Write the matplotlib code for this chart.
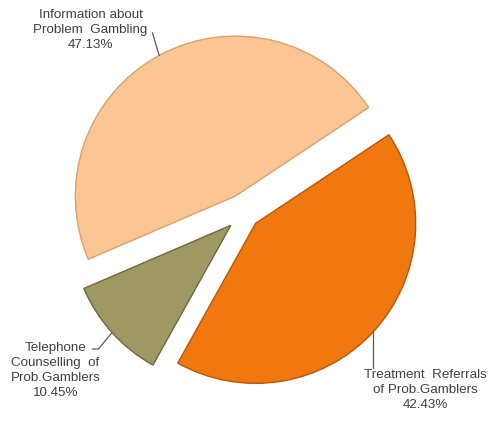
import numpy as np
import matplotlib
matplotlib.use("Agg")
import matplotlib.pyplot as plt

# helpline call breakdown
labels = ["Information about\nProblem  Gambling",
          "Telephone\nCounselling  of\nProb.Gamblers",
          "Treatment  Referrals\nof Prob.Gamblers"]
shares = [47.13, 10.45, 42.43]
colors = ["#FBC694", "#A09862", "#F0780F"]
edges = ["#D9A070", "#6E6840", "#B8570A"]

plt.rcParams['font.family'] = ['Liberation Sans', 'DejaVu Sans']

fig = plt.figure(figsize=(4.89, 4.26), dpi=100)
ax = fig.add_axes([0, 0, 1, 1])

wedges, _ = ax.pie(shares, colors=colors, startangle=33.6, counterclock=True,
                   explode=[0.12, 0.115, 0.095], radius=1.0,
                   wedgeprops=dict(linewidth=1.0))
for w, ec in zip(wedges, edges):
    w.set_edgecolor(ec)

# 160 px per unit radius
ax.set_xlim(-1.528, 1.528)
ax.set_ylim(-1.331, 1.331)
ax.set_aspect('equal')
ax.axis('off')

def mid_point(w):
    a = np.deg2rad((w.theta1 + w.theta2) / 2)
    cx, cy = w.center
    return cx + w.r * np.cos(a), cy + w.r * np.sin(a)

txt = dict(ha='center', va='center', fontsize=9.6, color='#404040',
           linespacing=1.36)

# top label
px, py = mid_point(wedges[0])
ax.plot([px, -0.575], [py, 1.125], color='#595959', lw=0.9)
ax.text(-0.9625, 1.144, "%s\n%.2f%%" % (labels[0], shares[0]), **txt)

# left label
px, py = mid_point(wedges[1])
ax.plot([px, -0.9125, -0.95], [py, -0.85, -0.85], color='#595959', lw=0.9)
ax.text(-1.181, -0.984, "%s\n%.2f%%" % (labels[1], shares[1]), **txt)

# bottom right label
px, py = mid_point(wedges[2])
ax.plot([px, px], [py, -0.969], color='#595959', lw=0.9)
ax.text(1.13, -1.106, "%s\n%.2f%%" % (labels[2], shares[2]), **txt)

fig.savefig("out.png", dpi=100)
